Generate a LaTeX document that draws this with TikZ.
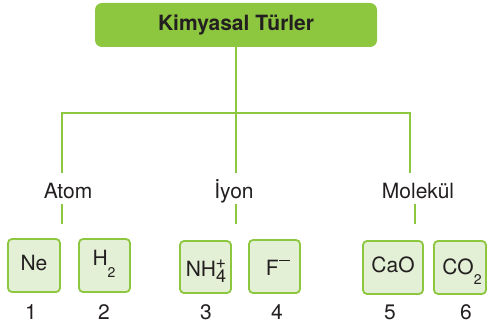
\documentclass[tikz,border=0pt]{standalone}
\usepackage{fontspec}
\setmainfont{TeX Gyre Heros}
\definecolor{leaf}{HTML}{8DC63F}
\definecolor{pale}{HTML}{E3F0D6}
\definecolor{ink}{HTML}{231F20}
\newcommand{\smallidx}[2]{\raisebox{#1}{\fontsize{14}{14}\selectfont #2}}
\newcommand{\mididx}[2]{\raisebox{#1}{\fontsize{18}{18}\selectfont #2}}
\begin{document}
\begin{tikzpicture}[x=1pt,y=-1pt,
  every node/.style={text=ink,font=\fontsize{21}{25}\selectfont,inner sep=0pt},
  link/.style={draw=leaf,line width=2.6pt},
  cell/.style={draw=leaf,fill=pale,line width=1.8pt,rounded corners=4pt},
  lbl/.style={anchor=base}]
\useasboundingbox (0,0) rectangle (487,326);

% heading box
\node[fill=leaf,rounded corners=7pt,minimum width=282pt,minimum height=44pt,
  font=\fontsize{21}{25}\selectfont\bfseries] (title) at (236,25) {Kimyasal Türler};

% branch points
\coordinate (hub) at (236,113);
\coordinate (hl) at (62,113);
\coordinate (hr) at (410,113);
\coordinate (al) at (62,173);
\coordinate (im) at (236,173);
\coordinate (ml) at (410,173);

\draw[link] (title.south) -- (hub);
\draw[link] (al) -- (hl) -- (hr) -- (ml);
\draw[link] (hub) -- (im);

% category labels
\node[lbl] (atom) at (68,198) {Atom};
\node[lbl] (iyon) at (234,198) {İyon};
\node[lbl] (mol) at (418,198) {Molekül};

% short stubs under the labels
\coordinate (sa1) at (62,204);  \coordinate (sa2) at (62,224);
\coordinate (si1) at (236,204); \coordinate (si2) at (236,224);
\coordinate (sm1) at (415,204); \coordinate (sm2) at (415,224);
\draw[link] (sa1) -- (sa2);
\draw[link] (si1) -- (si2);
\draw[link] (sm1) -- (sm2);

% species boxes
\draw[cell] (8,239) rectangle (60,292);
\draw[cell] (79,239) rectangle (130,292);
\draw[cell] (180,241) rectangle (231,293);
\draw[cell] (249,240) rectangle (300,293);
\draw[cell] (363,241) rectangle (423,294);
\draw[cell] (434,241) rectangle (486,294);

\node[lbl] (ne) at (34,270) {Ne};
\node[lbl] (h2) at (104,265) {H\smallidx{-12pt}{2}};
\node[lbl] (nh4) at (206,276) {NH\mididx{-6pt}{4}\llap{\mididx{8pt}{+}}};
\node[lbl] (f) at (278,275) {F\kern0.5pt\raisebox{14pt}{\rule{11pt}{1.1pt}}};
\node[lbl] (cao) at (393,272) {CaO};
\node[lbl] (co2) at (462,274) {CO\smallidx{-10pt}{2}};

% numbering
\node[lbl] (n1) at (31,319) {1};
\node[lbl] (n2) at (104,319) {2};
\node[lbl] (n3) at (206,319) {3};
\node[lbl] (n4) at (277,319) {4};
\node[lbl] (n5) at (390,319) {5};
\node[lbl] (n6) at (466,319) {6};
\end{tikzpicture}
\end{document}
